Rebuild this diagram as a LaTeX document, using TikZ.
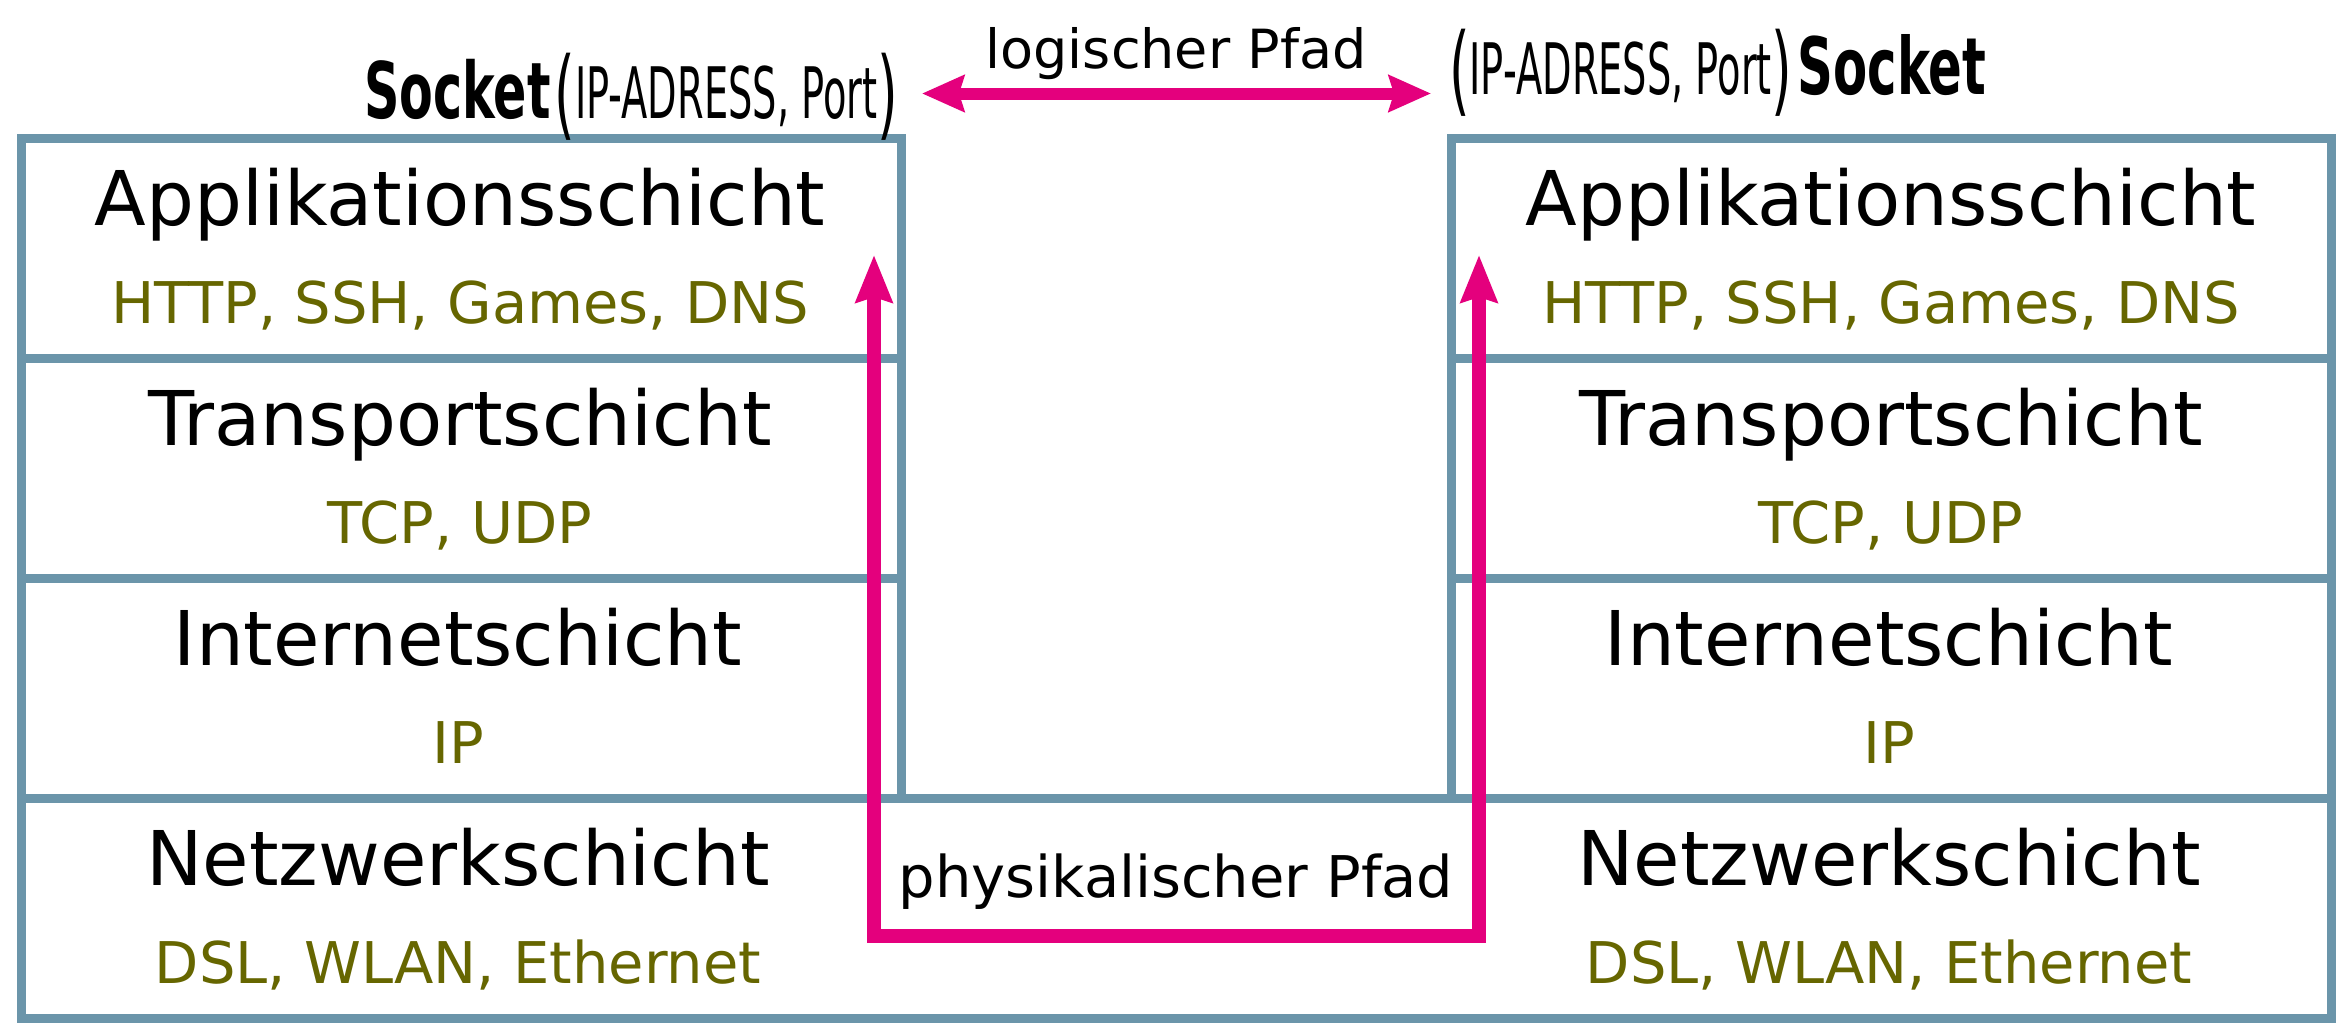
\documentclass[tikz,border=0pt]{standalone}
\usepackage{fontspec}
\setmainfont{DejaVu Sans}
\newfontfamily\handfont[FakeStretch=0.54]{DejaVu Sans}
\newfontfamily\sockfont[FakeStretch=0.63]{DejaVu Sans}
\usetikzlibrary{arrows.meta}
\definecolor{layerblue}{HTML}{6B95AA}
\definecolor{pathmag}{HTML}{E4007D}
\definecolor{protoolive}{HTML}{666600}
\begin{document}
\begin{tikzpicture}[x=1pt,y=-1pt,
  layer/.style={draw=layerblue, line width=9pt, minimum width=880pt, minimum height=220pt, inner sep=0pt, outer sep=0pt},
  title/.style={anchor=base, inner sep=0pt, font=\fontsize{75.5}{80}\selectfont},
  proto/.style={anchor=base, inner sep=0pt, text=protoolive, font=\fontsize{57.5}{60}\selectfont},
  pathlabel/.style={anchor=base, inner sep=0pt},
  sockl/.style={inner sep=0pt, outer sep=0pt},
  magpath/.style={draw=pathmag, line width=14pt, arrows={Stealth[length=47pt,width=36pt,inset=5pt]-Stealth[length=47pt,width=36pt,inset=5pt]}},
  logpath/.style={draw=pathmag, line width=12pt, arrows={Stealth[length=42pt,width=36pt,inset=5pt]-Stealth[length=42pt,width=36pt,inset=5pt]}}
]
\useasboundingbox (0,0) rectangle (2351,1036);
\fill[white] (0,0) rectangle (2351,1036);

% layer boxes
\node[layer] (la) at (461.4,248) {};
\node[layer] (lt) at (461.4,468) {};
\node[layer] (li) at (461.4,688) {};
\node[layer] (ra) at (1891.9,248) {};
\node[layer] (rt) at (1891.9,468) {};
\node[layer] (ri) at (1891.9,688) {};
\node[layer, minimum width=2310.4pt] (net) at (1176.5,908) {};

% left texts
\node[title] (tla) at (460,225) {Applikationsschicht};
\node[proto] (pla) at (460,323) {HTTP, SSH, Games, DNS};
\node[title] (tlt) at (460,445) {Transportschicht};
\node[proto] (plt) at (460,543) {TCP, UDP};
\node[title] (tli) at (458,665) {Internetschicht};
\node[proto] (pli) at (458,763) {IP};
\node[title] (tln) at (458,885) {Netzwerkschicht};
\node[proto] (pln) at (458,983) {DSL, WLAN, Ethernet};

% right texts
\node[title] (tra) at (1891,225) {Applikationsschicht};
\node[proto] (pra) at (1891,323) {HTTP, SSH, Games, DNS};
\node[title] (trt) at (1891,445) {Transportschicht};
\node[proto] (prt) at (1891,543) {TCP, UDP};
\node[title] (tri) at (1889,665) {Internetschicht};
\node[proto] (pri) at (1889,763) {IP};
\node[title] (trn) at (1889,885) {Netzwerkschicht};
\node[proto] (prn) at (1889,983) {DSL, WLAN, Ethernet};

% socket labels
\node[sockl, anchor=base west] (sockL) at (364,118)
  {{\sockfont\bfseries\fontsize{78}{78}\selectfont Socket}\hspace{4pt}{\handfont\fontsize{98}{98}\selectfont\raisebox{-9pt}{(}}{\handfont\fontsize{71}{71}\selectfont IP-ADRESS, Port}{\handfont\fontsize{98}{98}\selectfont\raisebox{-9pt}{)}}};
\node[sockl, anchor=base west] (sockR) at (1449,94)
  {{\handfont\fontsize{98}{98}\selectfont\raisebox{-9pt}{(}}{\handfont\fontsize{71}{71}\selectfont IP-ADRESS, Port}{\handfont\fontsize{98}{98}\selectfont\raisebox{-9pt}{)}}\hspace{5pt}{\sockfont\bfseries\fontsize{79}{79}\selectfont Socket}};

% logical path
\coordinate (ql) at (922,93.5);
\coordinate (qr) at (1431,93.5);
\draw[logpath] (ql) -- (qr);
\node[pathlabel, font=\fontsize{54}{56}\selectfont] (logl) at (1176,68) {logischer Pfad};

% physical path
\coordinate (pl) at (874,255);
\coordinate (pb) at (1176.5,936);
\coordinate (pr) at (1479,255);
\draw[magpath] (pl) |- (pb) -| (pr);
\node[pathlabel, font=\fontsize{57.5}{59}\selectfont] (phyl) at (1176,897) {physikalischer Pfad};
\end{tikzpicture}
\end{document}
